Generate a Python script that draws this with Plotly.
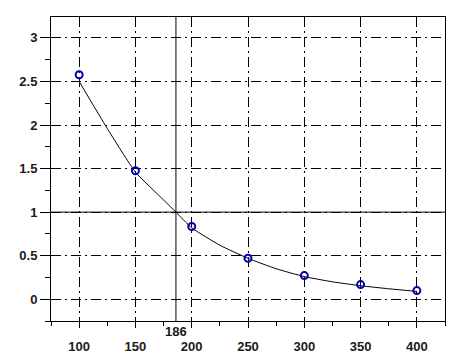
import plotly.graph_objects as go

# measured points
x_points = [100, 150, 200, 250, 300, 350, 400]
y_points = [2.577, 1.475, 0.835, 0.471, 0.271, 0.168, 0.099]

# fitted curve
x_curve = [100, 125, 150, 175, 186, 200, 225, 250, 275, 300, 325, 350, 375, 400]
y_curve = [2.50, 1.96, 1.46, 1.14, 1.00, 0.82, 0.62, 0.47, 0.35, 0.26, 0.20, 0.155, 0.12, 0.09]

# reference lines
ref_y = 1.0
ref_x = 186

x_ticks = [100, 150, 200, 250, 300, 350, 400]
y_ticks = [0, 0.5, 1, 1.5, 2, 2.5, 3]
y_tick_labels = ["0", "0.5", "1", "1.5", "2", "2.5", "3"]

font_main = dict(family="Liberation Sans, Arial, sans-serif", size=13, color="#1a1a1a")
grid_dash = "10px,4px,2px,4px"

fig = go.Figure()
fig.add_trace(go.Scatter(
    x=x_curve, y=y_curve, mode="lines",
    line=dict(color="black", width=1, shape="spline", smoothing=0.5),
    showlegend=False, hoverinfo="skip"))
fig.add_trace(go.Scatter(
    x=x_points, y=y_points, mode="markers",
    marker=dict(symbol="circle-open", size=7, color="#0000b0", line=dict(width=2, color="#0000b0")),
    showlegend=False))

fig.add_shape(type="line", xref="paper", yref="y", x0=0, x1=1, y0=ref_y, y1=ref_y,
              line=dict(color="black", width=1), layer="above")
fig.add_shape(type="line", xref="x", yref="paper", x0=ref_x, x1=ref_x, y0=0, y1=1,
              line=dict(color="black", width=1), layer="above")
fig.add_annotation(x=ref_x, y=0, xref="x", yref="paper", yanchor="top", yshift=-1,
                   text="<b>186</b>", showarrow=False, font=font_main)

fig.update_xaxes(
    range=[75, 425], tickvals=x_ticks, ticktext=[f"<b>{v}</b>" for v in x_ticks],
    ticks="outside", ticklen=6, tickcolor="black", tickwidth=1, ticklabelstandoff=7,
    showline=True, linecolor="black", linewidth=1, mirror=True,
    showgrid=True, gridcolor="black", gridwidth=1, griddash=grid_dash,
    zeroline=False, tickfont=font_main, automargin=False,
    minor=dict(ticks="outside", ticklen=4, tick0=75, dtick=25, tickcolor="black", showgrid=False),
)
fig.update_yaxes(
    range=[-0.25, 3.24], tickvals=y_ticks, ticktext=[f"<b>{t}</b>" for t in y_tick_labels],
    ticks="outside", ticklen=10, tickcolor="black", tickwidth=1,
    showline=True, linecolor="black", linewidth=1, mirror=True,
    showgrid=True, gridcolor="black", gridwidth=1, griddash=grid_dash,
    zeroline=False, tickfont=font_main, automargin=False,
    minor=dict(ticks="outside", ticklen=5, tick0=0, dtick=0.25, tickcolor="black", showgrid=False),
)

# page body has a default 8px margin, so the figure is sized/offset to compensate
fig.update_layout(
    width=457, height=355,
    margin=dict(l=43, r=20, t=9, b=42),
    plot_bgcolor="white", paper_bgcolor="white",
    font=font_main,
)

fig.write_html("out.html")
